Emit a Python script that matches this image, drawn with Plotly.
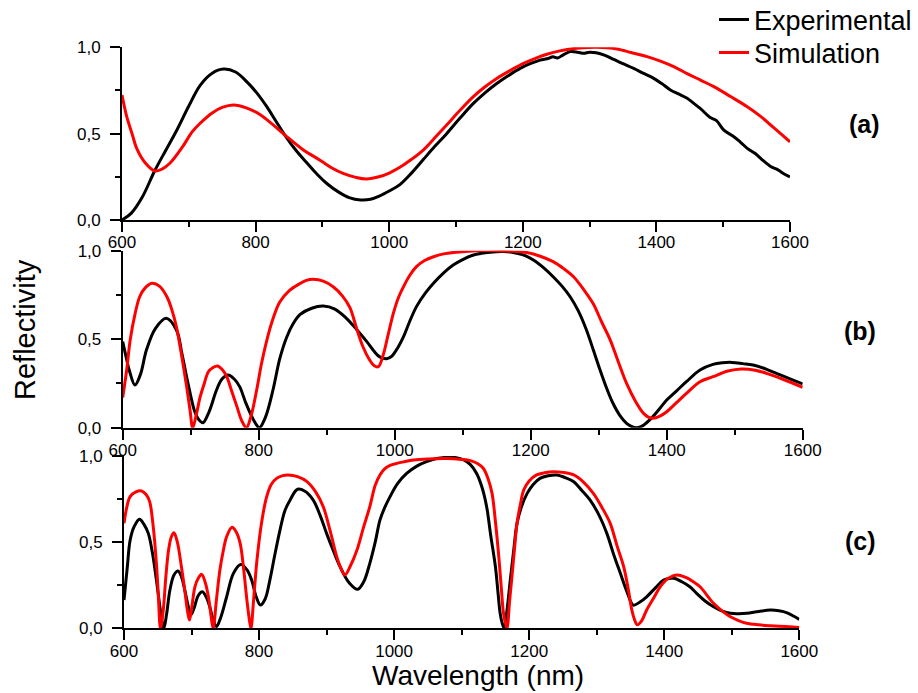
import plotly.graph_objects as go

# ---------------- data ----------------
# Panel (a)
a_exp_wl = [600, 614, 630, 649, 665, 682, 700, 717, 735, 752, 770, 787, 802, 817, 830, 844, 860, 877, 892, 907,
            925, 940, 957, 972, 986, 1000, 1016, 1033, 1051, 1068, 1086, 1106, 1126, 1143, 1161, 1178, 1196, 1211,
            1226, 1238, 1245, 1252, 1260, 1271, 1282, 1291, 1300, 1310, 1322, 1336, 1350, 1366, 1380, 1396, 1408,
            1421, 1433, 1446, 1456, 1466, 1480, 1490, 1501, 1515, 1526, 1536, 1548, 1558, 1571, 1582, 1592, 1600]
a_exp_r = [0.0, 0.04, 0.13, 0.285, 0.40, 0.52, 0.66, 0.78, 0.85, 0.874, 0.857, 0.80, 0.735, 0.655, 0.575, 0.49,
           0.405, 0.33, 0.265, 0.21, 0.16, 0.13, 0.116, 0.12, 0.14, 0.168, 0.205, 0.27, 0.35, 0.425, 0.50, 0.59,
           0.675, 0.735, 0.79, 0.835, 0.878, 0.905, 0.926, 0.935, 0.945, 0.938, 0.955, 0.975, 0.972, 0.965, 0.972,
           0.968, 0.955, 0.93, 0.905, 0.878, 0.85, 0.82, 0.79, 0.753, 0.73, 0.705, 0.675, 0.645, 0.595, 0.575,
           0.52, 0.485, 0.45, 0.415, 0.385, 0.35, 0.31, 0.29, 0.265, 0.25]
a_sim_wl = [600, 607, 615, 622, 635, 649, 660, 672, 690, 705, 717, 735, 750, 767, 787, 807, 825, 844, 870, 897,
            915, 931, 950, 966, 986, 1000, 1016, 1033, 1051, 1068, 1086, 1106, 1126, 1143, 1161, 1181, 1201, 1218,
            1236, 1254, 1271, 1290, 1311, 1326, 1341, 1362, 1386, 1406, 1426, 1446, 1466, 1486, 1511, 1536, 1556,
            1571, 1586, 1600]
a_sim_r = [0.724, 0.60, 0.50, 0.415, 0.33, 0.284, 0.295, 0.33, 0.42, 0.51, 0.56, 0.62, 0.652, 0.666, 0.648, 0.61,
           0.555, 0.492, 0.41, 0.345, 0.30, 0.27, 0.247, 0.238, 0.252, 0.272, 0.305, 0.35, 0.405, 0.475, 0.55,
           0.635, 0.714, 0.77, 0.82, 0.865, 0.907, 0.935, 0.96, 0.978, 0.99, 0.998, 1.0, 0.997, 0.99, 0.97, 0.946,
           0.92, 0.888, 0.848, 0.81, 0.772, 0.715, 0.656, 0.60, 0.55, 0.50, 0.453]

# Panel (b)
b_exp_wl = [600, 605, 610, 618, 626, 635, 648, 664, 679, 687, 694, 700, 706, 712, 718, 727, 738, 746, 755, 764,
            772, 781, 790, 796, 801, 810, 821, 831, 841, 851, 861, 878, 895, 912, 929, 944, 959, 970, 978, 988,
            996, 1005, 1013, 1022, 1032, 1045, 1057, 1072, 1086, 1100, 1116, 1140, 1160, 1174, 1190, 1204, 1220,
            1233, 1246, 1258, 1270, 1282, 1292, 1302, 1312, 1321, 1331, 1341, 1348, 1356, 1365, 1375, 1388, 1400,
            1415, 1429, 1449, 1468, 1482, 1496, 1512, 1527, 1547, 1567, 1585, 1600]
b_exp_r = [0.486, 0.40, 0.32, 0.241, 0.30, 0.44, 0.56, 0.618, 0.552, 0.42, 0.288, 0.18, 0.09, 0.045, 0.028, 0.09,
           0.213, 0.275, 0.298, 0.275, 0.232, 0.14, 0.062, 0.02, 0.0, 0.06, 0.213, 0.39, 0.51, 0.59, 0.64, 0.675,
           0.687, 0.67, 0.618, 0.555, 0.486, 0.43, 0.40, 0.39, 0.405, 0.455, 0.514, 0.60, 0.684, 0.76, 0.816,
           0.875, 0.919, 0.95, 0.976, 0.991, 0.995, 0.99, 0.975, 0.947, 0.90, 0.853, 0.80, 0.74, 0.66, 0.552,
           0.44, 0.326, 0.22, 0.138, 0.07, 0.025, 0.008, 0.0, 0.012, 0.044, 0.10, 0.156, 0.21, 0.26, 0.326, 0.358,
           0.367, 0.369, 0.362, 0.354, 0.33, 0.298, 0.27, 0.247]
b_sim_wl = [600, 606, 611, 618, 625, 633, 643, 654, 665, 672, 679, 687, 694, 699, 703, 708, 714, 720, 726, 733,
            739, 746, 753, 760, 768, 775, 782, 789, 797, 804, 812, 821, 831, 845, 861, 870, 880, 895, 910, 923,
            934, 944, 953, 962, 970, 976, 983, 990, 998, 1005, 1013, 1022, 1032, 1044, 1057, 1072, 1086, 1120,
            1160, 1194, 1213, 1233, 1248, 1263, 1278, 1292, 1304, 1317, 1329, 1341, 1354, 1366, 1373, 1380, 1390,
            1400, 1414, 1429, 1449, 1468, 1490, 1510, 1530, 1547, 1570, 1600]
b_sim_r = [0.17, 0.33, 0.495, 0.64, 0.74, 0.79, 0.816, 0.80, 0.74, 0.67, 0.57, 0.40, 0.232, 0.10, 0.0, 0.07, 0.175,
           0.25, 0.316, 0.34, 0.349, 0.33, 0.288, 0.21, 0.119, 0.04, 0.0, 0.07, 0.213, 0.36, 0.495, 0.615, 0.71,
           0.775, 0.815, 0.832, 0.838, 0.828, 0.795, 0.745, 0.68, 0.56, 0.46, 0.39, 0.35, 0.345, 0.41, 0.52,
           0.646, 0.73, 0.797, 0.86, 0.91, 0.945, 0.966, 0.982, 0.99, 1.0, 0.999, 0.99, 0.97, 0.938, 0.90, 0.853,
           0.78, 0.70, 0.60, 0.495, 0.37, 0.25, 0.15, 0.081, 0.06, 0.053, 0.065, 0.09, 0.14, 0.194, 0.26, 0.288,
           0.32, 0.332, 0.325, 0.307, 0.275, 0.228]

# Panel (c)
c_exp_wl = [600, 605, 609, 615, 623, 630, 636, 642, 648, 653, 656, 659, 663, 668, 674, 680, 685, 690, 695, 699,
            704, 710, 716, 722, 727, 732, 737, 743, 752, 762, 773, 782, 789, 796, 802, 809, 816, 823, 831, 838,
            846, 857, 868, 880, 890, 900, 910, 920, 934, 946, 955, 964, 972, 979, 986, 994, 1005, 1019, 1033,
            1048, 1063, 1078, 1092, 1103, 1113, 1122, 1130, 1137, 1143, 1150, 1154, 1157, 1160, 1163, 1167, 1172,
            1177, 1182, 1189, 1197, 1206, 1216, 1228, 1241, 1253, 1266, 1278, 1290, 1303, 1315, 1325, 1335, 1345,
            1354, 1363, 1374, 1387, 1399, 1414, 1426, 1438, 1448, 1460, 1473, 1486, 1498, 1510, 1522, 1540, 1557,
            1570, 1582, 1592, 1600]
c_exp_r = [0.164, 0.36, 0.51, 0.59, 0.633, 0.60, 0.551, 0.44, 0.28, 0.13, 0.048, 0.0, 0.08, 0.222, 0.31, 0.333,
           0.30, 0.222, 0.13, 0.077, 0.12, 0.19, 0.212, 0.18, 0.125, 0.05, 0.01, 0.06, 0.183, 0.319, 0.371, 0.34,
           0.28, 0.18, 0.135, 0.17, 0.28, 0.42, 0.57, 0.68, 0.745, 0.807, 0.795, 0.745, 0.66, 0.551, 0.45, 0.357,
           0.261, 0.226, 0.27, 0.377, 0.50, 0.628, 0.70, 0.764, 0.84, 0.90, 0.94, 0.967, 0.985, 0.992, 0.99,
           0.977, 0.95, 0.90, 0.82, 0.706, 0.54, 0.357, 0.2, 0.087, 0.03, 0.0, 0.10, 0.28, 0.45, 0.609, 0.71,
           0.783, 0.835, 0.87, 0.885, 0.89, 0.875, 0.851, 0.80, 0.745, 0.66, 0.551, 0.43, 0.319, 0.21, 0.135,
           0.15, 0.183, 0.235, 0.28, 0.29, 0.27, 0.241, 0.203, 0.16, 0.125, 0.10, 0.087, 0.085, 0.087, 0.098,
           0.106, 0.102, 0.09, 0.07, 0.052]
c_sim_wl = [600, 604, 609, 617, 626, 633, 638, 643, 648, 651, 654, 658, 662, 666, 670, 674, 679, 685, 690, 694,
            697, 701, 705, 710, 715, 720, 725, 729, 732, 737, 742, 747, 752, 760, 766, 772, 777, 782, 786, 788,
            792, 797, 804, 811, 818, 826, 834, 843, 857, 871, 884, 895, 905, 915, 921, 927, 935, 945, 955, 964,
            972, 979, 986, 994, 1004, 1014, 1029, 1050, 1078, 1100, 1113, 1124, 1132, 1139, 1145, 1150, 1155, 1159,
            1162, 1167, 1171, 1174, 1178, 1182, 1187, 1192, 1200, 1211, 1223, 1236, 1250, 1266, 1280, 1295, 1308,
            1320, 1330, 1340, 1347, 1352, 1356, 1360, 1366, 1374, 1385, 1394, 1406, 1419, 1432, 1443, 1453, 1473,
            1486, 1498, 1510, 1522, 1540, 1557, 1580, 1600]
c_sim_r = [0.609, 0.70, 0.764, 0.79, 0.797, 0.775, 0.735, 0.6, 0.377, 0.18, 0.0, 0.10, 0.30, 0.454, 0.53, 0.555,
           0.50, 0.357, 0.22, 0.10, 0.048, 0.14, 0.241, 0.29, 0.313, 0.27, 0.183, 0.07, 0.0, 0.17, 0.338, 0.45,
           0.532, 0.586, 0.56, 0.493, 0.35, 0.164, 0.04, 0.0, 0.17, 0.40, 0.62, 0.76, 0.835, 0.87, 0.885, 0.89,
           0.88, 0.851, 0.79, 0.706, 0.57, 0.416, 0.35, 0.31, 0.36, 0.454, 0.59, 0.706, 0.83, 0.89, 0.925, 0.945,
           0.957, 0.966, 0.977, 0.983, 0.985, 0.98, 0.973, 0.955, 0.929, 0.87, 0.783, 0.62, 0.416, 0.22, 0.087,
           0.0, 0.16, 0.28, 0.45, 0.61, 0.72, 0.803, 0.855, 0.89, 0.903, 0.909, 0.905, 0.89, 0.85, 0.783, 0.70,
           0.609, 0.48, 0.357, 0.22, 0.106, 0.05, 0.02, 0.04, 0.106, 0.18, 0.241, 0.29, 0.31, 0.295, 0.27, 0.241,
           0.145, 0.10, 0.067, 0.045, 0.029, 0.02, 0.015, 0.01, 0.005]

x_ticks = [600, 800, 1000, 1200, 1400, 1600]
y_ticks = [0.0, 0.5, 1.0]
y_tick_text = ["0,0", "0,5", "1,0"]
panel_labels = ["(a)", "(b)", "(c)"]
series_names = ["Experimental", "Simulation"]

# ---------------- figure ----------------
W, H = 918, 693
FONT = "Liberation Sans, Arial, sans-serif"
BLACK, RED = "#000000", "#ff0000"

fig = go.Figure()
panels = [
    (a_exp_wl, a_exp_r, a_sim_wl, a_sim_r),
    (b_exp_wl, b_exp_r, b_sim_wl, b_sim_r),
    (c_exp_wl, c_exp_r, c_sim_wl, c_sim_r),
]
for i, (ew, er, sw, sr) in enumerate(panels):
    ax = "" if i == 0 else str(i + 1)
    fig.add_trace(go.Scatter(x=ew, y=er, mode="lines", name=series_names[0],
                             line=dict(color=BLACK, width=3, shape="spline", smoothing=1.0),
                             xaxis="x" + ax, yaxis="y" + ax, showlegend=(i == 0), legend="legend"))
    fig.add_trace(go.Scatter(x=sw, y=sr, mode="lines", name=series_names[1],
                             line=dict(color=RED, width=3, shape="spline", smoothing=1.0),
                             xaxis="x" + ax, yaxis="y" + ax, showlegend=(i == 0), legend="legend2"))

# pixel boxes (left, right, top, bottom) of each plot area
boxes = [(122, 790, 47.3, 220), (122.7, 802.7, 250.7, 427.7), (124, 799.3, 456, 628.3)]
layout = {}
for i, (l, r, t, b) in enumerate(boxes):
    ax = "" if i == 0 else str(i + 1)
    common = dict(showline=True, linecolor=BLACK, linewidth=2, ticks="outside", ticklen=10, tickwidth=2,
                  tickcolor=BLACK, showgrid=False, zeroline=False, mirror=False, automargin=False,
                  tickfont=dict(family=FONT, size=17, color=BLACK))
    layout["xaxis" + ax] = dict(common, domain=[l / W, r / W], range=[600, 1600], tickvals=x_ticks,
                                anchor="y" + ax, ticklabelstandoff=-4,
                                minor=dict(ticks="outside", ticklen=5, tickwidth=2, tickcolor=BLACK,
                                           dtick=100, tick0=600))
    layout["yaxis" + ax] = dict(common, domain=[1 - b / H, 1 - t / H], range=[0, 1], tickvals=y_ticks,
                                ticktext=y_tick_text, anchor="x" + ax, ticklabelstandoff=6,
                                minor=dict(ticks="outside", ticklen=5, tickwidth=2, tickcolor=BLACK,
                                           dtick=0.25, tick0=0))

annotations = []
label_pos = [(864, 124.5), (860, 331), (860.5, 541)]
for lab, (px, py) in zip(panel_labels, label_pos):
    annotations.append(dict(text="<b>" + lab + "</b>", x=px / W, y=1 - py / H, xref="paper", yref="paper",
                            showarrow=False, xanchor="center", yanchor="middle",
                            font=dict(family=FONT, size=25, color=BLACK)))
annotations.append(dict(text="Reflectivity", x=25 / W, y=1 - 330 / H, xref="paper", yref="paper",
                        showarrow=False, textangle=-90, xanchor="center", yanchor="middle",
                        font=dict(family=FONT, size=29, color=BLACK)))
annotations.append(dict(text="Wavelength (nm)", x=477.7 / W, y=0, xref="paper", yref="paper",
                        showarrow=False, xanchor="center", yanchor="bottom",
                        font=dict(family=FONT, size=28, color=BLACK)))

legend_common = dict(xanchor="left", yanchor="middle", bgcolor="rgba(0,0,0,0)", borderwidth=0,
                     font=dict(family=FONT, size=27, color=BLACK), itemwidth=30)
fig.update_layout(
    template="none",
    width=W, height=H, autosize=False,
    margin=dict(l=0, r=0, t=0, b=0, pad=0, autoexpand=False),
    paper_bgcolor="white", plot_bgcolor="white",
    font=dict(family=FONT, color=BLACK),
    showlegend=True,
    legend=dict(legend_common, x=714 / W, y=1 - 20 / H),
    legend2=dict(legend_common, x=714 / W, y=1 - 53 / H),
    annotations=annotations,
    **layout,
)

fig.write_html("out.html")
